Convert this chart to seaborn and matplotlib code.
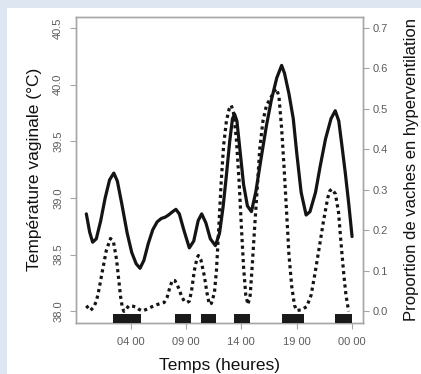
import numpy as np
import pandas as pd
import matplotlib
matplotlib.use("Agg")
import matplotlib.pyplot as plt
from matplotlib.patches import Rectangle
import seaborn as sns

# ---------------------------------------------------------------------------
# Data (hours from midnight)
# ---------------------------------------------------------------------------
temp_hours = [0.0, 0.3, 0.57, 0.9, 1.3, 1.7, 2.1, 2.48, 2.8, 3.2, 3.69, 4.1,
              4.5, 4.85, 5.2, 5.6, 6.0, 6.4, 6.78, 7.1, 7.42, 7.8, 8.09, 8.4,
              8.8, 9.3, 9.7, 10.1, 10.42, 10.8, 11.2, 11.66, 12.03, 12.35,
              12.64, 12.95, 13.2, 13.39, 13.6, 13.9, 14.2, 14.55, 14.91, 15.3,
              15.8, 16.27, 16.7, 17.2, 17.64, 17.9, 18.3, 18.69, 19.0, 19.4,
              19.85, 20.2, 20.7, 21.12, 21.6, 22.1, 22.48, 22.8, 23.1, 23.39,
              23.7, 24.0]
temp_values = [38.86, 38.70, 38.61, 38.64, 38.80, 39.00, 39.16, 39.22, 39.15,
               38.95, 38.69, 38.52, 38.42, 38.38, 38.45, 38.60, 38.72, 38.79,
               38.82, 38.83, 38.85, 38.88, 38.90, 38.86, 38.72, 38.56, 38.62,
               38.80, 38.86, 38.78, 38.64, 38.58, 38.69, 38.92, 39.19, 39.50,
               39.70, 39.74, 39.68, 39.40, 39.12, 38.93, 38.88, 39.05, 39.36,
               39.64, 39.86, 40.06, 40.17, 40.10, 39.92, 39.70, 39.40, 39.05,
               38.85, 38.88, 39.05, 39.28, 39.52, 39.70, 39.77, 39.68, 39.45,
               39.22, 38.95, 38.66]

prop_hours = [0.0, 0.36, 0.65, 0.91, 1.15, 1.42, 1.8, 2.18, 2.45, 2.73, 2.9,
              3.09, 3.25, 3.39, 3.6, 3.85, 4.15, 4.45, 4.75, 5.05, 5.35, 5.66,
              6.05, 6.42, 6.75, 7.03, 7.3, 7.55, 7.78, 8.0, 8.2, 8.39, 8.6,
              8.85, 9.1, 9.3, 9.5, 9.75, 10.0, 10.12, 10.35, 10.66, 10.9,
              11.11, 11.3, 11.57, 11.75, 11.95, 12.18, 12.4, 12.65, 12.9,
              13.09, 13.3, 13.55, 13.8, 14.0, 14.2, 14.4, 14.6, 14.8, 15.0,
              15.21, 15.45, 15.66, 15.95, 16.27, 16.7, 17.0, 17.18, 17.4,
              17.64, 17.85, 18.09, 18.3, 18.55, 18.8, 19.0, 19.45, 19.91,
              20.3, 20.66, 21.05, 21.42, 21.8, 22.0, 22.18, 22.5, 22.78, 23.0,
              23.24, 23.45, 23.69]
prop_values = [0.014, 0.002, 0.010, 0.025, 0.055, 0.095, 0.150, 0.180, 0.172,
               0.128, 0.085, 0.037, 0.010, 0.000, 0.006, 0.014, 0.013, 0.011,
               0.005, 0.001, 0.004, 0.008, 0.013, 0.017, 0.020, 0.022, 0.035,
               0.060, 0.077, 0.076, 0.066, 0.054, 0.037, 0.025, 0.022, 0.025,
               0.050, 0.100, 0.132, 0.138, 0.127, 0.087, 0.045, 0.017, 0.020,
               0.046, 0.100, 0.200, 0.320, 0.410, 0.470, 0.500, 0.509, 0.490,
               0.426, 0.320, 0.211, 0.110, 0.040, 0.017, 0.040, 0.120, 0.211,
               0.310, 0.401, 0.470, 0.509, 0.530, 0.545, 0.550, 0.530, 0.451,
               0.360, 0.244, 0.140, 0.062, 0.015, 0.002, 0.004, 0.012, 0.040,
               0.095, 0.160, 0.223, 0.280, 0.298, 0.302, 0.290, 0.244, 0.170,
               0.095, 0.040, 0.000]

# black boxes along the time axis (start, end in hours)
box_start = [2.43, 8.04, 10.34, 13.38, 17.63, 22.43]
box_end = [4.97, 9.45, 11.75, 14.82, 19.69, 24.0]

x_ticks = [4, 9, 14, 19, 24]
x_ticklabels = ["04 00", "09 00", "14 00", "19 00", "00 00"]
temp_ticks = [38.0, 38.5, 39.0, 39.5, 40.0, 40.5]
prop_ticks = [0.0, 0.1, 0.2, 0.3, 0.4, 0.5, 0.6, 0.7]

# ---------------------------------------------------------------------------
# Style
# ---------------------------------------------------------------------------
sns.set_style("white")
plt.rcParams["font.family"] = ["Liberation Sans", "DejaVu Sans"]

LINE = "#141414"
FRAME = "#a6a6a6"
TICKTXT = "#5c5c5c"

temp_df = pd.DataFrame({"heure": temp_hours, "temp": temp_values})
prop_df = pd.DataFrame({"heure": prop_hours, "prop": prop_values})

fig = plt.figure(figsize=(4.21, 3.74), dpi=100)
fig.patch.set_facecolor("#dde6f1")
fig.add_artist(Rectangle((7 / 421, 0), 1, 1 - 8 / 374, transform=fig.transFigure,
                         facecolor="white", edgecolor="none", zorder=-1))

ax = fig.add_axes([0.1798, 0.1372, 0.6817, 0.8182])
ax.set_facecolor("none")
ax2 = ax.twinx()

sns.lineplot(data=temp_df, x="heure", y="temp", ax=ax, color=LINE,
             linewidth=2.3, estimator=None)
sns.lineplot(data=prop_df, x="heure", y="prop", ax=ax2, color=LINE,
             linewidth=2.3, estimator=None, linestyle=(0, (1.0, 1.1)))

ax2.broken_barh([(s, e - s) for s, e in zip(box_start, box_end)], (0.0, 0.028),
                transform=ax2.get_xaxis_transform(), facecolor="#1a1a1a",
                edgecolor="none", zorder=3)

ax.set_xlim(-0.96, 24.96)
ax.set_ylim(37.9, 40.6)
ax2.set_ylim(-0.028, 0.728)

ax.set_xticks(x_ticks)
ax.set_xticklabels(x_ticklabels)
ax.set_yticks(temp_ticks)
ax.set_yticklabels([f"{t:.1f}" for t in temp_ticks], rotation=90, va="center")
ax2.set_yticks(prop_ticks)
ax2.set_yticklabels([f"{t:.1f}" for t in prop_ticks])

for a in (ax, ax2):
    for sp in a.spines.values():
        sp.set_color(FRAME)
        sp.set_linewidth(1.0)
    a.tick_params(colors=FRAME, labelcolor=TICKTXT, labelsize=8, length=4,
                  width=0.8, direction="out")
ax.tick_params(axis="x", pad=6, bottom=True)
ax.tick_params(axis="y", pad=5, left=True)
ax2.tick_params(axis="y", right=True, pad=3)

ax.set_xlabel("Temps (heures)", fontsize=12.5, color="#111111", labelpad=8)
ax.set_ylabel("Température vaginale (°C)", fontsize=12.5, color="#111111",
              labelpad=8)
ax2.set_ylabel("Proportion de vaches en hyperventilation", fontsize=12,
               color="#111111", labelpad=12)

fig.savefig("out.png", dpi=100)
